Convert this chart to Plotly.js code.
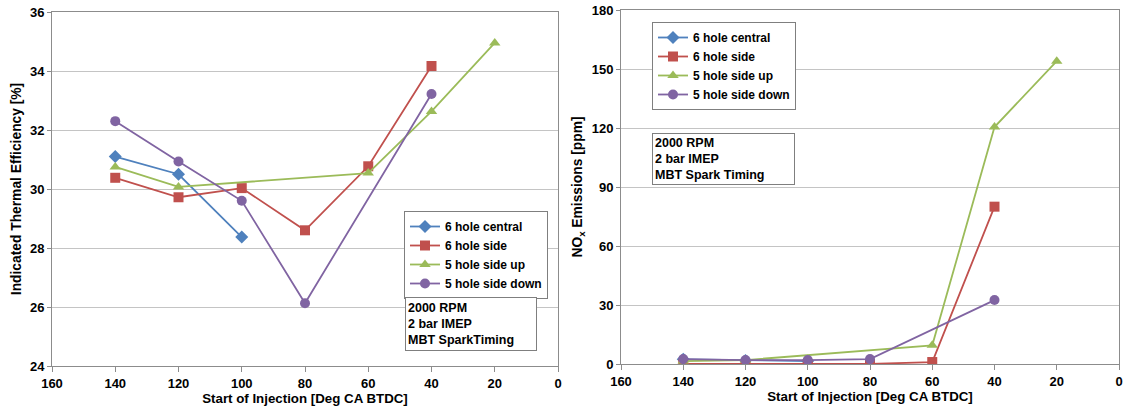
<!DOCTYPE html>
<html>
<head>
<meta charset="utf-8">
<script src="https://cdn.plot.ly/plotly-3.0.1.min.js"></script>
<style>html,body{margin:0;padding:0;background:#fff}#chart{width:1123px;height:416px}</style>
</head>
<body>
<div id="chart"></div>
<script>
// ---- data ----
const seriesNames = ["6 hole central", "6 hole side", "5 hole side up", "5 hole side down"];
// Left chart: Indicated Thermal Efficiency [%]
const eff_central_x = [140, 120, 100];
const eff_central_y = [31.1, 30.5, 28.37];
const eff_side_x = [140, 120, 100, 80, 60, 40];
const eff_side_y = [30.38, 29.72, 30.03, 28.6, 30.77, 34.17];
const eff_up_x = [140, 120, 60, 40, 20];
const eff_up_y = [30.75, 30.07, 30.54, 32.63, 34.95];
const eff_down_x = [140, 120, 100, 80, 40];
const eff_down_y = [32.3, 30.93, 29.6, 26.13, 33.22];
// Right chart: NOx Emissions [ppm]
const nox_central_x = [140, 120, 100];
const nox_central_y = [2.4, 1.8, 1.5];
const nox_side_x = [140, 120, 100, 80, 60, 40];
const nox_side_y = [0, 0, 0, 0, 1, 80];
const nox_up_x = [140, 120, 60, 40, 20];
const nox_up_y = [1.5, 2, 9.5, 120.5, 154];
const nox_down_x = [140, 120, 100, 80, 40];
const nox_down_y = [2.5, 2, 2, 2.5, 32.5];
const xTicks = [160, 140, 120, 100, 80, 60, 40, 20, 0];
const effTicks = [24, 26, 28, 30, 32, 34, 36];
const noxTicks = [0, 30, 60, 90, 120, 150, 180];
const infoLeft = "2000 RPM<br>2 bar IMEP<br>MBT SparkTiming";
const infoRight = "2000 RPM<br>2 bar IMEP<br>MBT Spark Timing";

// ---- styles ----
const colors = ["#4F81BD", "#C0504D", "#9BBB59", "#8064A2"];
const symbols = ["diamond", "square", "triangle-up", "circle"];
const sizes = [10, 10, 10, 10];
const FONT = "Liberation Sans, Arial, sans-serif";

function mk(x, y, i, xa, ya, leg) {
  return {
    x: x, y: y, type: "scatter", mode: "lines+markers", name: seriesNames[i],
    xaxis: xa, yaxis: ya, legend: leg,
    line: {color: colors[i], width: 1.8},
    marker: {color: colors[i], symbol: symbols[i], size: sizes[i]}
  };
}
const traces = [
  mk(eff_central_x, eff_central_y, 0, "x", "y", "legend"),
  mk(eff_side_x, eff_side_y, 1, "x", "y", "legend"),
  mk(eff_up_x, eff_up_y, 2, "x", "y", "legend"),
  mk(eff_down_x, eff_down_y, 3, "x", "y", "legend"),
  mk(nox_central_x, nox_central_y, 0, "x2", "y2", "legend2"),
  mk(nox_side_x, nox_side_y, 1, "x2", "y2", "legend2"),
  mk(nox_up_x, nox_up_y, 2, "x2", "y2", "legend2"),
  mk(nox_down_x, nox_down_y, 3, "x2", "y2", "legend2")
];

const W = 1123, H = 416;
function xax(dom, anchor) {
  return {
    domain: dom, anchor: anchor, range: [160, 0], tickvals: xTicks, ticktext: xTicks.map(String),
    showgrid: false, zeroline: false, showline: true, mirror: true, linecolor: "#8c8c8c", linewidth: 1,
    ticks: "outside", ticklen: 5, tickcolor: "#8c8c8c", automargin: false,
    tickfont: {family: FONT, size: 13, color: "#000", weight: "bold"},
    title: {text: "Start of Injection [Deg CA BTDC]", standoff: 3, font: {family: FONT, size: 13.3, color: "#000", weight: "bold"}}
  };
}
function yax(dom, anchor, rng, ticks, title) {
  return {
    domain: dom, anchor: anchor, range: rng, tickvals: ticks, ticktext: ticks.map(String),
    showgrid: true, gridcolor: "#c4c4c4", gridwidth: 1, zeroline: false,
    showline: true, mirror: true, linecolor: "#8c8c8c", linewidth: 1,
    ticks: "outside", ticklen: 4, tickcolor: "#8c8c8c", automargin: false,
    tickfont: {family: FONT, size: 13, color: "#000", weight: "bold"},
    title: {text: title, standoff: 5, font: {family: FONT, size: 13.8, color: "#000", weight: "bold"}}
  };
}
const legStyle = {
  bgcolor: "#ffffff", bordercolor: "#7f7f7f", borderwidth: 1,
  font: {family: FONT, size: 12, color: "#000", weight: "bold"},
  xanchor: "left", yanchor: "top", itemwidth: 30, tracegroupgap: 0
};
const layout = {
  width: W, height: H, margin: {l: 0, r: 0, t: 0, b: 0},
  paper_bgcolor: "#fff", plot_bgcolor: "#fff", showlegend: true,
  font: {family: FONT},
  xaxis: xax([52 / W, 558 / W], "y"),
  yaxis: yax([1 - 366 / H, 1 - 12 / H], "x", [24, 36], effTicks, "Indicated Thermal Efficiency [%]"),
  xaxis2: xax([621 / W, 1119 / W], "y2"),
  yaxis2: yax([1 - 364 / H, 1 - 10 / H], "x2", [0, 180], noxTicks, "NO<sub>x</sub> Emissions [ppm]"),
  legend: Object.assign({}, legStyle, {x: 404 / W, y: 1 - 211 / H}),
  legend2: Object.assign({}, legStyle, {x: 652 / W, y: 1 - 22 / H}),
  annotations: [
    {xref: "paper", yref: "paper", x: 405 / W, y: 1 - 297 / H, xanchor: "left", yanchor: "top",
     text: infoLeft, align: "left", showarrow: false, bgcolor: "#fff", bordercolor: "#7f7f7f", borderwidth: 1, borderpad: 2,
     width: 126, height: 48,
     font: {family: FONT, size: 12.5, color: "#000", weight: "bold"}},
    {xref: "paper", yref: "paper", x: 652 / W, y: 1 - 133 / H, xanchor: "left", yanchor: "top",
     text: infoRight, align: "left", showarrow: false, bgcolor: "#fff", bordercolor: "#7f7f7f", borderwidth: 1, borderpad: 2,
     width: 137, height: 46,
     font: {family: FONT, size: 12.5, color: "#000", weight: "bold"}}
  ]
};
Plotly.newPlot("chart", traces, layout, {displayModeBar: false, staticPlot: true});
</script>
</body>
</html>
